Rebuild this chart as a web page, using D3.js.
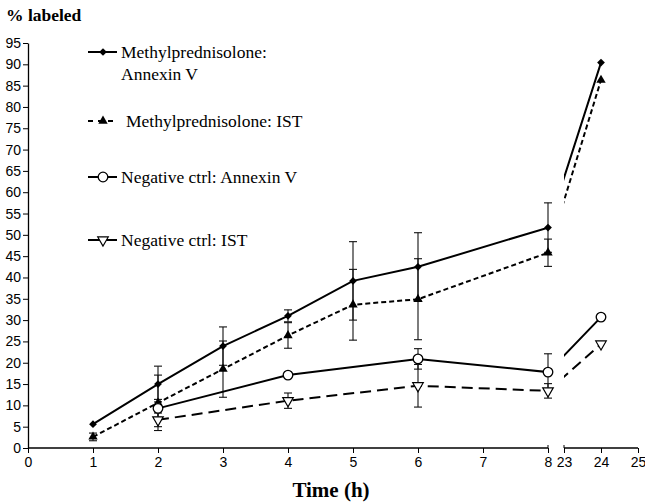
<!DOCTYPE html>
<html><head><meta charset="utf-8">
<script src="https://cdn.jsdelivr.net/npm/d3@7"></script>
<style>body{margin:0;background:#fff}svg{display:block}</style>
</head><body><svg id="c" width="645" height="503"></svg>
<script>
const times = [1, 2, 3, 4, 5, 6, 8, 24];
const mpAnnexin = [5.6, 15.0, 23.9, 31.0, 39.2, 42.5, 51.7, 90.4];
const mpAnnexinErr = [0, 4.2, 4.5, 1.4, 9.2, 8.0, 5.8, 0];
const mpIST = [2.6, 10.6, 18.5, 26.4, 33.6, 34.9, 45.8, 86.3];
const mpISTErr = [0.9, 6.5, 6.6, 3.0, 8.3, 9.5, 3.2, 0];
const negTimes = [2, 4, 6, 8, 24];
const negAnnexin = [9.3, 17.1, 20.9, 17.8, 30.7];
const negAnnexinErr = [2.1, 0, 2.4, 4.3, 0];
const negIST = [6.6, 11.1, 14.6, 13.4, 24.4];
const negISTErr = [1.6, 1.8, 5.0, 1.7, 0];
const xTicks = [0, 1, 2, 3, 4, 5, 6, 7, 8, 23, 24, 25];
const yTicks = d3.range(0, 96, 5);
const legendLabels = [["Methylprednisolone:", "Annexin V"], ["Methylprednisolone: IST"], ["Negative ctrl: Annexin V"], ["Negative ctrl: IST"]];

const svg = d3.select("#c");
const x = d3.scaleLinear().domain([0, 8, 23, 25]).range([28, 548, 564, 638]);
const y = d3.scaleLinear().domain([0, 95]).range([448, 43]);

const defs = svg.append("defs");
const cp = defs.append("clipPath").attr("id", "brk");
cp.append("rect").attr("x", x(0)).attr("y", 0).attr("width", x(8) - x(0)).attr("height", 503);
cp.append("rect").attr("x", x(23)).attr("y", 0).attr("width", 645 - x(23)).attr("height", 503);

const sans = "'Liberation Sans', Arial, sans-serif";
const serif = "'Liberation Serif', 'Times New Roman', serif";

const yAx = svg.append("g").attr("transform", `translate(${x(0)},0)`)
  .call(d3.axisLeft(y).tickValues(yTicks).tickSize(5).tickPadding(2).tickSizeOuter(0));
yAx.select(".domain").attr("stroke-width", 1.3);
yAx.selectAll("text").attr("font-family", sans).attr("font-size", 14).attr("fill", "#000");

const xAx1 = svg.append("g").attr("transform", `translate(0,${y(0)})`)
  .call(d3.axisBottom(x).tickValues(xTicks.filter(t => t <= 8)).tickSize(5).tickPadding(4).tickSizeOuter(0));
const xAx2 = svg.append("g").attr("transform", `translate(0,${y(0)})`)
  .call(d3.axisBottom(x).tickValues(xTicks.filter(t => t >= 23)).tickSize(5).tickPadding(4).tickSizeOuter(0));
[xAx1, xAx2].forEach(g => {
  g.select(".domain").remove();
  g.selectAll("text").attr("font-family", sans).attr("font-size", 14).attr("fill", "#000");
});
svg.append("line").attr("x1", x(0)).attr("x2", x(8)).attr("y1", y(0)).attr("y2", y(0)).attr("stroke", "#000").attr("stroke-width", 1.3);
svg.append("line").attr("x1", x(23)).attr("x2", x(25)).attr("y1", y(0)).attr("y2", y(0)).attr("stroke", "#000").attr("stroke-width", 1.3);
[8, 23].forEach(t => svg.append("line").attr("x1", x(t)).attr("x2", x(t)).attr("y1", y(0) - 3).attr("y2", y(0)).attr("stroke", "#000"));

svg.append("text").attr("x", 6).attr("y", 21).text("% labeled")
  .attr("font-family", serif).attr("font-weight", "bold").attr("font-size", 17.5);
svg.append("text").attr("x", 331).attr("y", 497).attr("text-anchor", "middle").text("Time (h)")
  .attr("font-family", serif).attr("font-weight", "bold").attr("font-size", 21);

const series = [
  { t: times, v: mpAnnexin, e: mpAnnexinErr, dash: null, sym: "diamond" },
  { t: times, v: mpIST, e: mpISTErr, dash: "5,3", sym: "tri" },
  { t: negTimes, v: negAnnexin, e: negAnnexinErr, dash: null, sym: "circle" },
  { t: negTimes, v: negIST, e: negISTErr, dash: "11,6", sym: "dtri" }
];

const eb = svg.append("g").attr("stroke", "#111").attr("stroke-width", 1.1);
series.forEach(s => {
  s.t.forEach((t, i) => {
    const e = s.e[i]; if (!e) return;
    const cx = x(t), y1 = y(s.v[i] + e), y2 = y(s.v[i] - e);
    eb.append("line").attr("x1", cx).attr("x2", cx).attr("y1", y1).attr("y2", y2);
    eb.append("line").attr("x1", cx - 4).attr("x2", cx + 4).attr("y1", y1).attr("y2", y1);
    eb.append("line").attr("x1", cx - 4).attr("x2", cx + 4).attr("y1", y2).attr("y2", y2);
  });
});

const line = d3.line().x(d => x(d[0])).y(d => y(d[1]));
series.forEach(s => {
  svg.append("path").datum(s.t.map((t, i) => [t, s.v[i]]))
    .attr("d", line).attr("fill", "none").attr("stroke", "#000").attr("stroke-width", 2)
    .attr("stroke-dasharray", s.dash).attr("clip-path", "url(#brk)");
});

function marker(g, sym, cx, cy) {
  if (sym === "diamond") {
    g.append("path").attr("d", d3.symbol(d3.symbolSquare, 30)()).attr("transform", `translate(${cx},${cy}) rotate(45)`).attr("fill", "#000");
  } else if (sym === "tri") {
    g.append("path").attr("d", d3.symbol(d3.symbolTriangle, 38)()).attr("transform", `translate(${cx},${cy})`).attr("fill", "#000");
  } else if (sym === "circle") {
    g.append("circle").attr("cx", cx).attr("cy", cy).attr("r", 4.8).attr("fill", "#fff").attr("stroke", "#000").attr("stroke-width", 1.3);
  } else {
    g.append("path").attr("d", d3.symbol(d3.symbolTriangle, 48)()).attr("transform", `translate(${cx},${cy}) rotate(180)`).attr("fill", "#fff").attr("stroke", "#000").attr("stroke-width", 1.2);
  }
}
const mk = svg.append("g");
series.forEach(s => s.t.forEach((t, i) => marker(mk, s.sym, x(t), y(s.v[i]))));

const legY = [52, 121, 177, 240];
const lg = svg.append("g");
series.forEach((s, k) => {
  const yy = legY[k];
  lg.append("line").attr("x1", 88).attr("x2", 117).attr("y1", yy).attr("y2", yy)
    .attr("stroke", "#000").attr("stroke-width", 2).attr("stroke-dasharray", k === 1 ? "5,5" : null);
  marker(lg, s.sym, 103, yy);
  const tx = k === 1 ? 126 : 121;
  legendLabels[k].forEach((l, j) => {
    lg.append("text").attr("x", tx).attr("y", yy + 6 + j * 22).text(l)
      .attr("font-family", serif).attr("font-size", 17.5);
  });
});
</script></body></html>
